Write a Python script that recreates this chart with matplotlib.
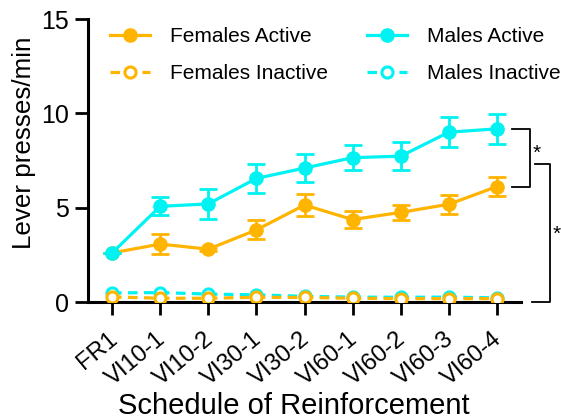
import matplotlib
matplotlib.use('Agg')
from matplotlib import pyplot as plt
from matplotlib.lines import Line2D
from matplotlib.transforms import ScaledTranslation

plt.rcParams['font.family'] = ['Liberation Sans', 'DejaVu Sans']

schedules = ['FR1', 'VI10-1', 'VI10-2', 'VI30-1', 'VI30-2', 'VI60-1', 'VI60-2', 'VI60-3', 'VI60-4']
female_active = [2.6, 3.07, 2.8, 3.82, 5.14, 4.37, 4.75, 5.18, 6.12]
female_active_sem = [0.0, 0.52, 0.08, 0.5, 0.56, 0.45, 0.4, 0.5, 0.48]
male_active = [2.6, 5.07, 5.2, 6.55, 7.1, 7.65, 7.73, 9.0, 9.18]
male_active_sem = [0.0, 0.48, 0.8, 0.75, 0.72, 0.66, 0.74, 0.8, 0.78]
female_inactive = [0.27, 0.2, 0.2, 0.25, 0.24, 0.2, 0.18, 0.18, 0.18]
male_inactive = [0.48, 0.5, 0.42, 0.38, 0.3, 0.26, 0.25, 0.26, 0.22]

orange = '#FFB400'
cyan = '#00F2F2'

fig = plt.figure(figsize=(5.61, 4.19), dpi=100)
ax = fig.add_axes([88 / 561, 1 - 302 / 419, 433 / 561, 283 / 419])

x = list(range(len(schedules)))
lw = 2.3
ebk = dict(capsize=6.5, elinewidth=2, capthick=2)

ax.errorbar(x, female_active, yerr=female_active_sem, color=orange, lw=lw,
            marker='o', ms=9.5, zorder=3, **ebk)
ax.errorbar(x, male_active, yerr=male_active_sem, color=cyan, lw=lw,
            marker='o', ms=9.5, zorder=4, **ebk)
ax.plot(x, male_inactive, color=cyan, lw=lw, ls=(0, (3, 2)), marker='o', ms=8,
        mfc='white', mec=cyan, mew=2.2, zorder=5)
ax.plot(x, female_inactive, color=orange, lw=lw, ls=(0, (3, 2)), marker='o', ms=8,
        mfc='white', mec=orange, mew=2.2, zorder=6)

ax.set_xlim(-0.5, 8.5)
ax.set_ylim(0, 15)
ax.set_yticks([0, 5, 10, 15])
ax.set_xticks(x)
ax.set_xticklabels(schedules, rotation=40, ha='right', va='top', rotation_mode='anchor')
ax.tick_params(axis='both', labelsize=18, width=2, length=9.5, pad=4)
ax.tick_params(axis='x', labelsize=17.2)
shift = ScaledTranslation(-3.5 / 72, -5.0 / 72, fig.dpi_scale_trans)
for lab in ax.get_xticklabels():
    lab.set_transform(lab.get_transform() + shift)
for side in ['top', 'right']:
    ax.spines[side].set_visible(False)
for side in ['left', 'bottom']:
    ax.spines[side].set_linewidth(2.2)

ax.set_ylabel('Lever presses/min', fontsize=18.7)
ax.yaxis.set_label_coords(-0.12, 0.562)
ax.set_xlabel('Schedule of Reinforcement', fontsize=21)
ax.xaxis.set_label_coords(0.476, -0.318)

# significance brackets
ax.plot([8.32, 8.68, 8.68, 8.32], [male_active[-1], male_active[-1], female_active[-1], female_active[-1]],
        color='black', lw=1.3, clip_on=False)
ax.text(8.82, 7.9, '*', fontsize=15, ha='center', va='center', clip_on=False)
ax.plot([8.8, 9.1, 9.1, 8.72], [7.3, 7.3, 0, 0], color='black', lw=1.3, clip_on=False)
ax.text(9.24, 3.6, '*', fontsize=15, ha='center', va='center', clip_on=False)

handles = [
    Line2D([], [], color=orange, lw=lw, marker='o', ms=9.5),
    Line2D([], [], color=orange, lw=lw, ls=(0, (3, 2)), marker='o', ms=8, mfc='white', mew=2.2),
    Line2D([], [], color=cyan, lw=lw, marker='o', ms=9.5),
    Line2D([], [], color=cyan, lw=lw, ls=(0, (3, 2)), marker='o', ms=8, mfc='white', mew=2.2),
]
labels = ['Females Active', 'Females Inactive', 'Males Active', 'Males Inactive']
fig.legend(handles, labels, ncol=2, loc='upper left', bbox_to_anchor=(0.196, 0.936),
           frameon=False, fontsize=15, handlelength=1.93, handletextpad=0.97,
           columnspacing=1.85, labelspacing=0.88, borderpad=0, borderaxespad=0)

fig.savefig('out.png', dpi=100)
